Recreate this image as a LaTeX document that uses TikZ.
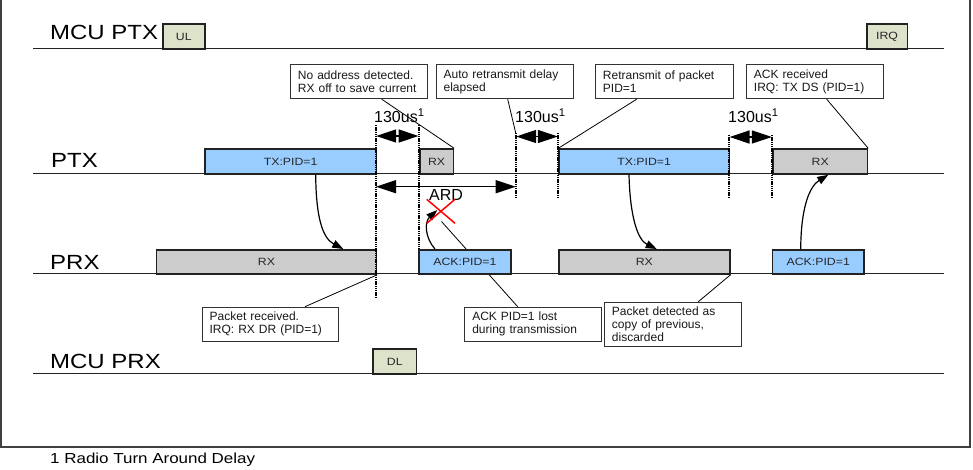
\documentclass[tikz,border=0pt]{standalone}
\usepackage{fontspec}
\setmainfont{Liberation Sans}
\newfontfamily\wfont[FakeStretch=1.17]{Liberation Sans}
\usetikzlibrary{arrows.meta,calc}
\definecolor{bluefill}{RGB}{153,204,255}
\definecolor{grayfill}{RGB}{204,204,204}
\definecolor{olivefill}{RGB}{221,226,203}
\definecolor{linecol}{RGB}{34,34,34}
\definecolor{framecol}{RGB}{64,64,64}
\definecolor{calloutcol}{RGB}{50,50,50}
\begin{document}
\begin{tikzpicture}[x=1pt,y=-1pt,
  lane/.style={draw=linecol, line width=1.5pt},
  lanelabel/.style={anchor=base west, inner sep=0pt, font=\wfont\fontsize{20.5}{24}\selectfont},
  slot/.style={draw=linecol, line width=1.5pt, anchor=north west, inner sep=0pt,
    font=\wfont\fontsize{10.5}{12}\selectfont, text=black!85},
  bluebox/.style={slot, fill=bluefill},
  graybox/.style={slot, fill=grayfill},
  mcubox/.style={slot, fill=olivefill},
  callout/.style={draw=calloutcol, line width=0.9pt, fill=white, anchor=north west,
    align=left, inner xsep=7.5pt, inner ysep=0pt, font=\fontsize{12}{13.4}\selectfont, text=black!90},
  leader/.style={draw=black, line width=0.8pt},
  turnline/.style={draw=black, line width=1.8pt, dash pattern=on 1.3pt off 0.9pt},
  fatarrows/.style={{Triangle[length=20pt,width=13pt]}-{Triangle[length=20pt,width=13pt]}, line width=1.3pt},
  curvearrow/.style={-{Triangle[length=11pt,width=8pt]}, line width=1.2pt},
  delaylabel/.style={anchor=base west, inner sep=0pt, font=\fontsize{16}{18}\selectfont},
  lost/.style={draw=red, line width=1.5pt}
]
\useasboundingbox (0,0) rectangle (973,469);

% frame
\draw[framecol, line width=2pt] (1,-3) -- (1,447) -- (970,447) -- (970,-3);

% lanes
\coordinate (l1a) at (33,48.3);  \coordinate (l1b) at (944,48.3);
\coordinate (l2a) at (33,173.3); \coordinate (l2b) at (944,173.3);
\coordinate (l3a) at (33,273.3); \coordinate (l3b) at (944,273.3);
\coordinate (l4a) at (33,373.3); \coordinate (l4b) at (944,373.3);
\draw[lane] (l1a) -- (l1b);
\draw[lane] (l2a) -- (l2b);
\draw[lane] (l3a) -- (l3b);
\draw[lane] (l4a) -- (l4b);

\node[lanelabel] (mcuptx) at (50,39) {MCU PTX};
\node[lanelabel] (ptx) at (51,167.5) {PTX};
\node[lanelabel] (prx) at (50,269.3) {PRX};
\node[lanelabel] (mcuprx) at (50,368.3) {MCU PRX};

% lost ACK marker coordinates
\coordinate (xa) at (426.7,199.3); \coordinate (xb) at (455,223.3);
\coordinate (xc) at (455,199.3);   \coordinate (xd) at (426.7,223.3);
\coordinate (xlost) at (441.5,221.5);

% callouts (bottom)
\node[callout, text width=121.6pt, minimum height=34pt] (c5) at (201.7,306.7)
  {Packet received.\\IRQ: RX DR (PID=1)};
\node[callout, text width=121.7pt, minimum height=34pt] (c6) at (464.3,306.7)
  {ACK PID=1 lost\\during transmission};
\node[callout, text width=121.7pt, minimum height=44.3pt] (c7) at (604,301.7)
  {Packet detected as\\copy of previous,\\discarded};
\draw[leader] ($(c6.north west)+(53.4,0)$) -- (xlost);

% boxes
\node[mcubox, minimum width=42pt, minimum height=25pt] (ul) at (162,23.3) {UL};
\node[mcubox, minimum width=40.7pt, minimum height=25pt] (irq) at (866,23.3) {IRQ};
\node[mcubox, minimum width=43.4pt, minimum height=25pt] (dl) at (372.3,348.3) {DL};

\node[bluebox, minimum width=171.7pt, minimum height=25pt] (tx1) at (204,148.3) {TX:PID=1};
\node[graybox, minimum width=33.7pt, minimum height=25pt] (rx1) at (419,148.3) {RX};
\node[bluebox, minimum width=170.2pt, minimum height=25pt] (tx2) at (558.3,148.3) {TX:PID=1};
\node[graybox, minimum width=94.4pt, minimum height=25pt] (rx2) at (772.3,148.3) {RX};

\node[graybox, minimum width=220pt, minimum height=24.3pt] (prx1) at (155.7,249) {RX};
\node[bluebox, minimum width=91.7pt, minimum height=24.3pt] (ack1) at (418.3,249) {ACK:PID=1};
\node[graybox, minimum width=170.7pt, minimum height=24.3pt] (prx2) at (558.3,249) {RX};
\node[bluebox, minimum width=91.6pt, minimum height=24.3pt] (ack2) at (771.7,249) {ACK:PID=1};

% callouts (top)
\node[callout, text width=121.7pt, minimum height=34pt] (c1) at (290,64.3)
  {No address detected.\\RX off to save current};
\node[callout, text width=122pt, minimum height=34pt] (c2) at (435.7,64.3)
  {Auto retransmit delay\\elapsed};
\node[callout, text width=122.7pt, minimum height=34pt] (c3) at (595,64.3)
  {Retransmit of packet\\PID=1};
\node[callout, text width=122.3pt, minimum height=34pt] (c4) at (746,64.3)
  {ACK received\\IRQ: TX DS (PID=1)};

% turn-around lines
\coordinate (d1t) at (375.7,125); \coordinate (d1b) at (375.7,298);
\coordinate (d2t) at (419,125);   \coordinate (d2b) at (419,249);
\coordinate (d3t) at (515.7,133); \coordinate (d3b) at (515.7,197);
\coordinate (d4t) at (558.3,133); \coordinate (d4b) at (558.3,197);
\coordinate (d5t) at (729,135);   \coordinate (d5b) at (729,198);
\coordinate (d6t) at (772.3,135); \coordinate (d6b) at (772.3,198);
\draw[turnline] (d1t) -- (d1b);
\draw[turnline] (d2t) -- (d2b);
\draw[turnline] (d3t) -- (d3b);
\draw[turnline] (d4t) -- (d4b);
\draw[turnline] (d5t) -- (d5b);
\draw[turnline] (d6t) -- (d6b);

% leader lines
\draw[leader] ($(c1.south west)+(91.7,0)$) -- (rx1.north east);
\draw[leader] ($(c2.south west)+(72,0)$) -- (d3t);
\draw[leader] ($(c3.south west)+(41.7,0)$) -- (tx2.north west);
\draw[leader] ($(c4.south west)+(80.7,0)$) -- (rx2.north east);
\draw[leader] ($(c5.north west)+(103.3,0)$) -- (prx1.south east);
\draw[leader] ($(c7.north west)+(94.3,0)$) -- (prx2.south east);

% 130us delays
\draw[fatarrows] ($(d1t)+(0.5,11)$) -- ($(d2t)+(-0.5,11)$);
\draw[fatarrows] ($(d3t)+(0.5,3.5)$) -- ($(d4t)+(-0.5,3.5)$);
\draw[fatarrows] ($(d5t)+(0.5,2)$) -- ($(d6t)+(-0.5,2)$);
\node[delaylabel] (t1) at (374,122.7) {130us\textsuperscript{1}};
\node[delaylabel] (t2) at (515,122.7) {130us\textsuperscript{1}};
\node[delaylabel] (t3) at (728,122.7) {130us\textsuperscript{1}};

% ARD
\coordinate (ardl) at (376,186.7); \coordinate (ardr) at (515.7,186.7);
\draw[fatarrows] (ardl) -- (ardr);
\node[anchor=base, inner sep=0pt, font=\fontsize{16}{18}\selectfont] (ard) at (446,200.3) {ARD};

% packet flow arrows
\draw[curvearrow] ($(tx1.south west)+(111.7,0)$) .. controls +(0.3,42) and +(-21,-11) .. ($(prx1.north west)+(187.6,0)$);
\draw[curvearrow] ($(ack1.north west)+(16.7,0)$) .. controls +(-10,-11) and +(-13,12) .. (437.3,210);
\draw[curvearrow] ($(tx2.south west)+(70.7,0)$) .. controls +(1,42) and +(-19,-9) .. ($(prx2.north west)+(98.4,0)$);
\draw[curvearrow] ($(ack2.north west)+(29,0)$) .. controls +(0.3,-44) and +(-18,11) .. ($(rx2.south west)+(56,0)$);

% lost ACK cross
\draw[lost] (xa) -- (xb);
\draw[lost] (xc) -- (xd);

% footnote
\node[anchor=base west, inner sep=0pt, font=\wfont\fontsize{14.5}{17}\selectfont] (foot) at (50,463) {1 Radio Turn Around Delay};
\end{tikzpicture}
\end{document}
